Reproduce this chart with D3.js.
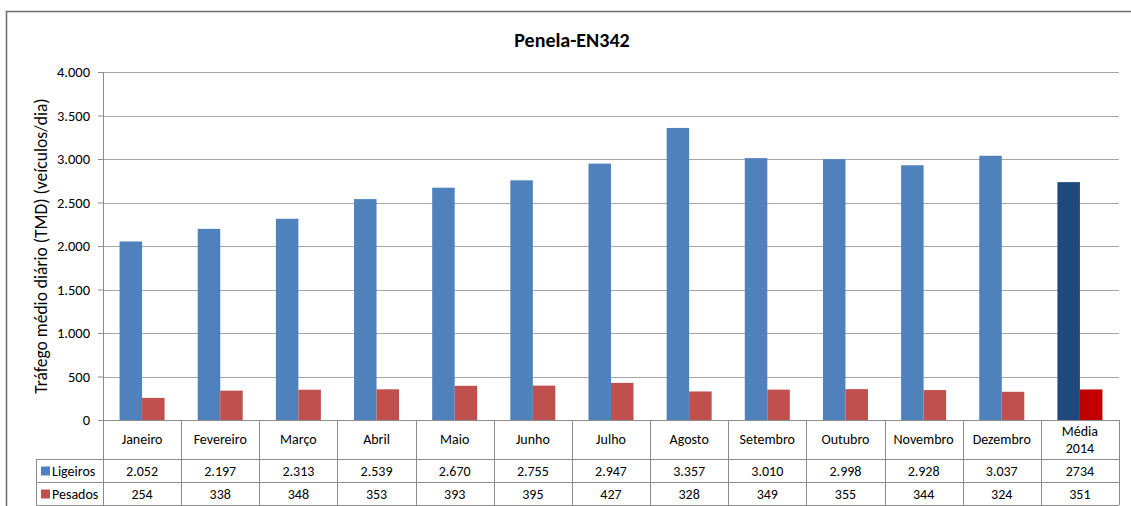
<!DOCTYPE html>
<html>
<head>
<meta charset="utf-8">
<script src="https://cdn.jsdelivr.net/npm/d3@7"></script>
<style>
  body { margin: 0; background: #fff; }
  text { font-family: Carlito, Lato, "Liberation Sans", sans-serif; fill: #000; }
</style>
</head>
<body>
<div id="chart-area"></div>
<script>
// DATA
var months = ["Janeiro", "Fevereiro", "Março", "Abril", "Maio", "Junho", "Julho",
    "Agosto", "Setembro", "Outubro", "Novembro", "Dezembro", "Média 2014"];
var ligeiros = [2052, 2197, 2313, 2539, 2670, 2755, 2947, 3357, 3010, 2998, 2928, 3037, 2734];
var pesados = [254, 338, 348, 353, 393, 395, 427, 328, 349, 355, 344, 324, 351];
var ligeirosLabels = ["2.052", "2.197", "2.313", "2.539", "2.670", "2.755", "2.947",
    "3.357", "3.010", "2.998", "2.928", "3.037", "2734"];
var pesadosLabels = ["254", "338", "348", "353", "393", "395", "427", "328", "349", "355", "344", "324", "351"];
var yTicks = [0, 500, 1000, 1500, 2000, 2500, 3000, 3500, 4000];

var W = 1131, H = 506;
var margin = { left: 103, right: 12, top: 72, bottom: 86 };
var width = W - margin.left - margin.right,
    height = H - margin.top - margin.bottom;   // plot bottom at 420

var svg = d3.select("#chart-area")
    .append("svg")
        .attr("width", W)
        .attr("height", H);

// outer frame
svg.append("rect")
    .attr("x", 6.5).attr("y", 11.5)
    .attr("width", W + 20).attr("height", H + 20)
    .attr("fill", "none")
    .attr("stroke", "#6b6b6b")
    .attr("stroke-width", 1.5);

var g = svg.append("g")
    .attr("transform", "translate(" + margin.left + "," + margin.top + ")");

// SCALES
var x = d3.scaleBand().domain(months).range([0, width]).paddingInner(0).paddingOuter(0);
var inner = d3.scaleBand().domain(["l", "p"]).range([0, 45]);
var groupOffset = function() { return (x.bandwidth() - 45) / 2; };
var y = d3.scaleLinear().domain([0, 4000]).range([height, 0]);

var fmt = d3.formatLocale({ decimal: ",", thousands: ".", grouping: [3], currency: ["", "€"] }).format(",");

// GRID
g.selectAll("line.grid")
    .data(yTicks.slice(1))
    .enter().append("line")
        .attr("x1", 0).attr("x2", width)
        .attr("y1", function(d) { return Math.round(y(d)) + 0.5; })
        .attr("y2", function(d) { return Math.round(y(d)) + 0.5; })
        .attr("stroke", "#a6a6a6").attr("stroke-width", 1);

// Y AXIS
var yAxisCall = d3.axisLeft(y).tickValues(yTicks).tickFormat(fmt).tickSize(5).tickPadding(8);
var yAxis = g.append("g").call(yAxisCall);
yAxis.select(".domain").attr("stroke", "#8c8c8c");
yAxis.selectAll(".tick line").attr("stroke", "#8c8c8c");
yAxis.selectAll(".tick text").attr("font-size", "14.5px").style("font-family", "Carlito, Lato, 'Liberation Sans', sans-serif");

// BARS
g.selectAll("rect.lig")
    .data(months)
    .enter().append("rect")
        .attr("x", function(d) { return x(d) + groupOffset() + inner("l"); })
        .attr("y", function(d, i) { return y(ligeiros[i]); })
        .attr("width", inner.bandwidth())
        .attr("height", function(d, i) { return height - y(ligeiros[i]); })
        .attr("fill", function(d, i) { return i === months.length - 1 ? "#1f497d" : "#4f81bd"; });

g.selectAll("rect.pes")
    .data(months)
    .enter().append("rect")
        .attr("x", function(d) { return x(d) + groupOffset() + inner("p"); })
        .attr("y", function(d, i) { return y(pesados[i]); })
        .attr("width", inner.bandwidth())
        .attr("height", function(d, i) { return height - y(pesados[i]); })
        .attr("fill", function(d, i) { return i === months.length - 1 ? "#c00000" : "#c0504d"; });

// DATA TABLE
var tableColor = "#8c8c8c";
var rowTop = [height, height + 39, height + 62, height + 85];
var tx0 = -67;   // legend column left edge

g.append("line")
    .attr("x1", 0).attr("x2", width).attr("y1", height + 0.5).attr("y2", height + 0.5)
    .attr("stroke", tableColor);
[rowTop[1], rowTop[2], rowTop[3]].forEach(function(yy) {
    g.append("line")
        .attr("x1", tx0).attr("x2", width).attr("y1", yy + 0.5).attr("y2", yy + 0.5)
        .attr("stroke", tableColor);
});
// vertical separators
months.forEach(function(m) {
    g.append("line")
        .attr("x1", Math.round(x(m)) + 0.5).attr("x2", Math.round(x(m)) + 0.5)
        .attr("y1", height).attr("y2", rowTop[3])
        .attr("stroke", tableColor);
});
g.append("line")
    .attr("x1", width + 0.5).attr("x2", width + 0.5)
    .attr("y1", height).attr("y2", rowTop[3]).attr("stroke", tableColor);
g.append("line")
    .attr("x1", tx0 + 0.5).attr("x2", tx0 + 0.5)
    .attr("y1", rowTop[1]).attr("y2", rowTop[3]).attr("stroke", tableColor);

// header labels
months.forEach(function(m) {
    var parts = m === "Média 2014" ? ["Média", "2014"] : [m];
    var t = g.append("text")
        .attr("x", x(m) + x.bandwidth() / 2)
        .attr("text-anchor", "middle")
        .attr("font-size", "14px");
    if (parts.length === 1) {
        t.attr("y", height + 24).text(m);
    } else {
        t.append("tspan").attr("x", x(m) + x.bandwidth() / 2).attr("y", height + 16).text(parts[0]);
        t.append("tspan").attr("x", x(m) + x.bandwidth() / 2).attr("y", height + 33).text(parts[1]);
    }
});

// value rows
var rows = [
    { name: "Ligeiros", color: "#4f81bd", labels: ligeirosLabels },
    { name: "Pesados", color: "#c0504d", labels: pesadosLabels }
];
rows.forEach(function(r, ri) {
    var top = rowTop[ri + 1], bot = rowTop[ri + 2];
    var mid = (top + bot) / 2;
    g.append("rect")
        .attr("x", tx0 + 5).attr("y", mid - 4)
        .attr("width", 9).attr("height", 9)
        .attr("fill", r.color);
    g.append("text")
        .attr("x", tx0 + 16).attr("y", mid + 5)
        .attr("font-size", "14px")
        .text(r.name);
    g.selectAll(null)
        .data(months)
        .enter().append("text")
            .attr("x", function(d) { return x(d) + x.bandwidth() / 2; })
            .attr("y", mid + 5)
            .attr("text-anchor", "middle")
            .attr("font-size", "14px")
            .text(function(d, i) { return r.labels[i]; });
});

// TITLE
svg.append("text")
    .attr("x", 572).attr("y", 47)
    .attr("text-anchor", "middle")
    .attr("font-size", "20px")
    .attr("font-weight", "bold")
    .text("Penela-EN342");

// Y LABEL
svg.append("text")
    .attr("transform", "translate(47," + (margin.top + height / 2) + ") rotate(-90)")
    .attr("text-anchor", "middle")
    .attr("font-size", "17.5px")
    .text("Tráfego médio diário (TMD) (veículos/dia)");
</script>
</body>
</html>
